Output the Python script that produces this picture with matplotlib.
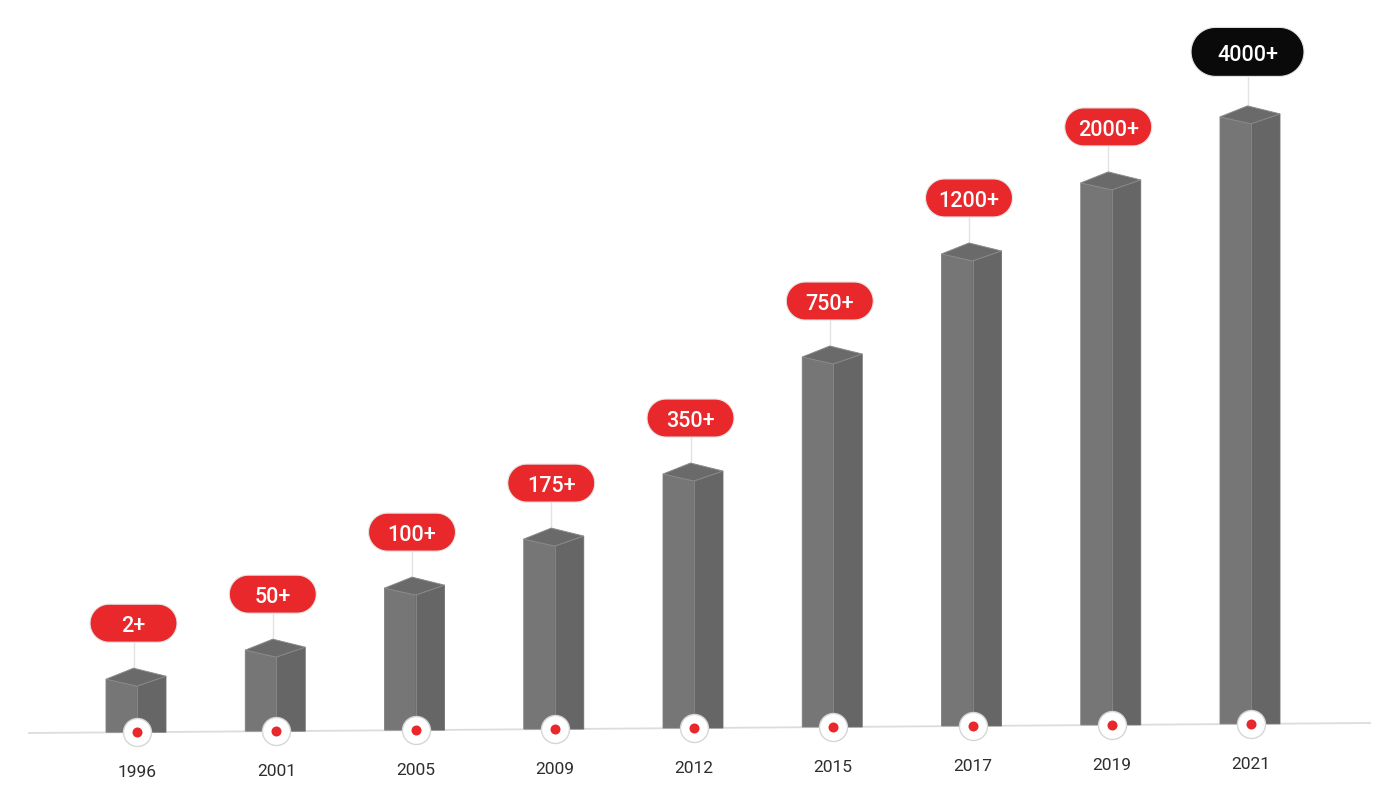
import matplotlib
matplotlib.use('Agg')
import numpy as np
import matplotlib.pyplot as plt
import matplotlib.transforms as mtransforms
from matplotlib.patches import Polygon

years = ['1996', '2001', '2005', '2009', '2012', '2015', '2017', '2019', '2021']
labels = ['2+', '50+', '100+', '175+', '350+', '750+', '1200+', '2000+', '4000+']
heights = [46, 74, 135, 183, 247, 363, 465, 535, 600]
pill_colors = ['#e8282b'] * 8 + ['#0a0a0a']

plt.rcParams['font.family'] = ['Roboto', 'DejaVu Sans']

fig = plt.figure(figsize=(13.95, 8.04), dpi=100)
ax = fig.add_axes([0, 0, 1, 1])
ax.set_xlim(-137 / 139.25, (1395 - 137) / 139.25)
ax.set_ylim(733.2 - 804, 733.2)
ax.axis('off')

slope = 139.25 * 10 / 1341  # baseline tilt, px per step
wl, wr = 31 / 139.25, 29 / 139.25


def stadium(w, h):
    # pill outline in pixels, centred on 0,0
    r = h / 2
    a1 = np.linspace(-np.pi / 2, np.pi / 2, 30)
    a2 = np.linspace(np.pi / 2, 3 * np.pi / 2, 30)
    right = np.c_[w / 2 - r + r * np.cos(a1), r * np.sin(a1)]
    left = np.c_[-w / 2 + r + r * np.cos(a2), r * np.sin(a2)]
    return np.vstack([right, left])


# baseline
bx = [-0.776, 8.855]
ax.plot(bx, [slope * v for v in bx], color='#dcdcdc', lw=1.3, zorder=1)

for i, (yr, lab, h, pc) in enumerate(zip(years, labels, heights, pill_colors)):
    base = slope * i
    top = base + h
    left = Polygon([(i - wl, base), (i, base), (i, top), (i - wl, top + 7)],
                   closed=True, facecolor='#767676', edgecolor='#7e7e7e', lw=0.6, zorder=2)
    right = Polygon([(i, base), (i + wr, base), (i + wr, top + 10), (i, top)],
                    closed=True, facecolor='#666666', edgecolor='#6e6e6e', lw=0.6, zorder=2)
    cap = Polygon([(i, top), (i - wl, top + 7), (i - 0.025, top + 18), (i + wr, top + 10)],
                  closed=True, facecolor='#6a6a6a', edgecolor='#8a8a8a', lw=0.7, zorder=3)
    ax.add_patch(left)
    ax.add_patch(right)
    ax.add_patch(cap)
    ax.plot([i, i], [base, top], color='#8a8a8a', lw=0.6, zorder=3)

    # pill label
    big = (i == len(years) - 1)
    pw, ph = (113, 49) if big else (87, 38)
    pcy = top + (72 if big else 63)
    px = i - 0.025
    tr = mtransforms.Affine2D() + mtransforms.ScaledTranslation(px, pcy, ax.transData)
    pill = Polygon(stadium(pw, ph), closed=True, transform=tr, facecolor=pc,
                   edgecolor='#e4e4e4', lw=0.8, zorder=4)
    ax.add_patch(pill)
    ax.text(px, pcy, lab, color='white', fontsize=15.5, fontweight='medium',
            ha='center', va='center_baseline', zorder=5)
    # connector
    ax.plot([px, px], [top + 18, pcy - ph / 2], color='#e2e2e2', lw=1, zorder=1)

    # marker on baseline
    ax.scatter([i], [base], s=406, facecolor='white', edgecolor='#d6d6d6', lw=1, zorder=6)
    ax.scatter([i], [base], s=52, color='#e8282b', lw=0, zorder=7)

    ax.text(i, base - 38, yr, color='#2e2e2e', fontsize=12.5, ha='center', va='center_baseline')

fig.savefig('out.png', dpi=100)
